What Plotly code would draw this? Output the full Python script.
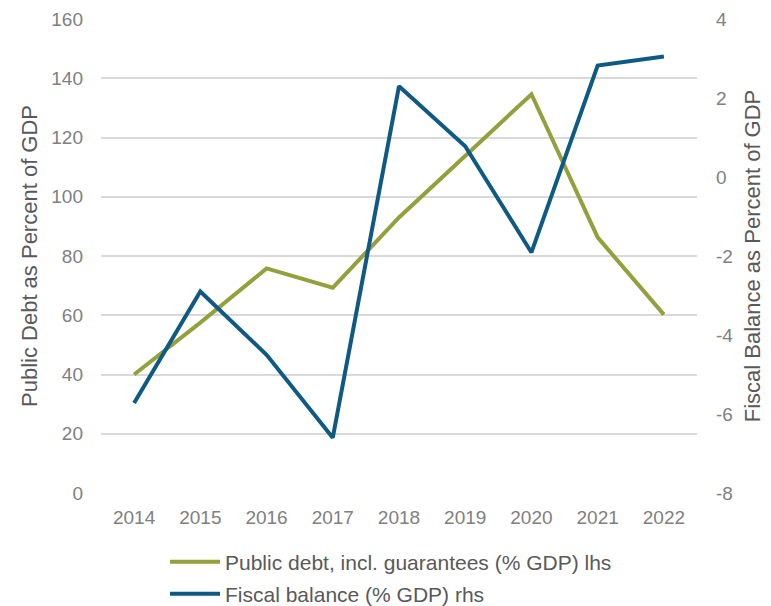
import plotly.graph_objects as go

years = ["2014", "2015", "2016", "2017", "2018", "2019", "2020", "2021", "2022"]
public_debt = [40.0, 57.5, 75.8, 69.3, 93.0, 114.0, 134.6, 86.3, 60.2]
fiscal_balance = [-5.72, -2.9, -4.5, -6.6, 2.3, 0.78, -1.91, 2.82, 3.05]
y2_tick_values = [-8, -6, -4, -2, 0, 2, 4]
y2_tick_labels = ["-8", "-6", "-4", "-2", "0", "2", "4"]

FONT = "Liberation Sans, Arial, sans-serif"
TICK_COLOR = "#808080"
TITLE_COLOR = "#595959"

W, H = 763, 598
L, T = 93, 11
PW, PH = 596, 474

fig = go.Figure()
fig.add_trace(go.Scatter(
    x=years, y=public_debt, mode="lines",
    name="Public debt, incl. guarantees (% GDP) lhs",
    line=dict(color="#94A03C", width=4), yaxis="y", legend="legend"))
fig.add_trace(go.Scatter(
    x=years, y=fiscal_balance, mode="lines",
    name="Fiscal balance (% GDP) rhs",
    line=dict(color="#0E5A84", width=4), yaxis="y2", legend="legend2"))

legend_common = dict(orientation="v", xanchor="left", yanchor="middle", itemwidth=50,
                     font=dict(size=21, color=TITLE_COLOR),
                     bgcolor="rgba(0,0,0,0)")

fig.update_layout(
    width=W, height=H,
    margin=dict(l=L, r=W - L - PW, t=T, b=H - T - PH, autoexpand=False),
    paper_bgcolor="white", plot_bgcolor="white",
    font=dict(family=FONT, size=19, color=TICK_COLOR),
    showlegend=True,
    legend=dict(x=(157 - L) / PW, y=(T + PH - 554) / PH, **legend_common),
    legend2=dict(x=(157 - L) / PW, y=(T + PH - 586) / PH, **legend_common),
    xaxis=dict(type="category", range=[-0.5, 8.5], showgrid=False, showline=False,
               zeroline=False, ticks="", ticklabelstandoff=11, automargin=False,
               tickfont=dict(size=19, color=TICK_COLOR)),
    yaxis=dict(range=[0, 160], dtick=20, showgrid=True, gridcolor="#D9D9D9",
               gridwidth=1.5, zeroline=False, showline=False, ticks="",
               ticklabelstandoff=17, automargin=False,
               tickfont=dict(size=19, color=TICK_COLOR),
               title=dict(text="Public Debt as Percent of GDP",
                          font=dict(size=22, color=TITLE_COLOR), standoff=7)),
    yaxis2=dict(range=[-8, 4], tickmode="array", tickvals=y2_tick_values,
                ticktext=y2_tick_labels, overlaying="y", side="right",
                showgrid=False, zeroline=False, showline=False, ticks="",
                ticklabelstandoff=18, automargin=False,
                tickfont=dict(size=19, color=TICK_COLOR),
                title=dict(text="Fiscal Balance as Percent of GDP",
                           font=dict(size=22, color=TITLE_COLOR), standoff=12)),
)

fig.write_html("out.html")
